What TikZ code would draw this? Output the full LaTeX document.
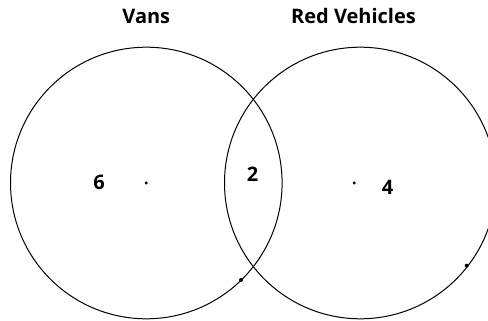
\documentclass[tikz,border=0pt]{standalone}
\usepackage{fontspec}
\setmainfont{Open Sans}
\usetikzlibrary{positioning}
\begin{document}
\begin{tikzpicture}[x=1pt, y=1pt,
  lbl/.style={font=\fontsize{20}{22}\selectfont\bfseries, inner sep=0pt, anchor=base},
  set/.style={draw, line width=1pt},
  pt/.style={fill, circle, inner sep=0pt, minimum size=4pt},
  ctr/.style={pt, minimum size=3.2pt}
]
\useasboundingbox (0,0) rectangle (488,321);
\coordinate (cv) at (146.3,138);
\coordinate (cr) at (360.3,138);
\draw[set] (cv) circle (135.8);
\draw[set] (cr) circle (135.8);
\node[ctr] (dv) at (146.3,138) {};
\node[ctr] (dr) at (354.3,138) {};
\node[pt] (pv) at (241,41) {};
\node[pt] (pr) at (466.7,55.3) {};
\node[lbl] (vans) at (146.3,297.5) {Vans};
\node[lbl] (red) at (353.5,297.5) {Red Vehicles};
\node[lbl] (six) at (99.2,131) {6};
\node[lbl] (two) at (252.5,139.3) {2};
\node[lbl] (four) at (387.5,126) {4};
\end{tikzpicture}
\end{document}
